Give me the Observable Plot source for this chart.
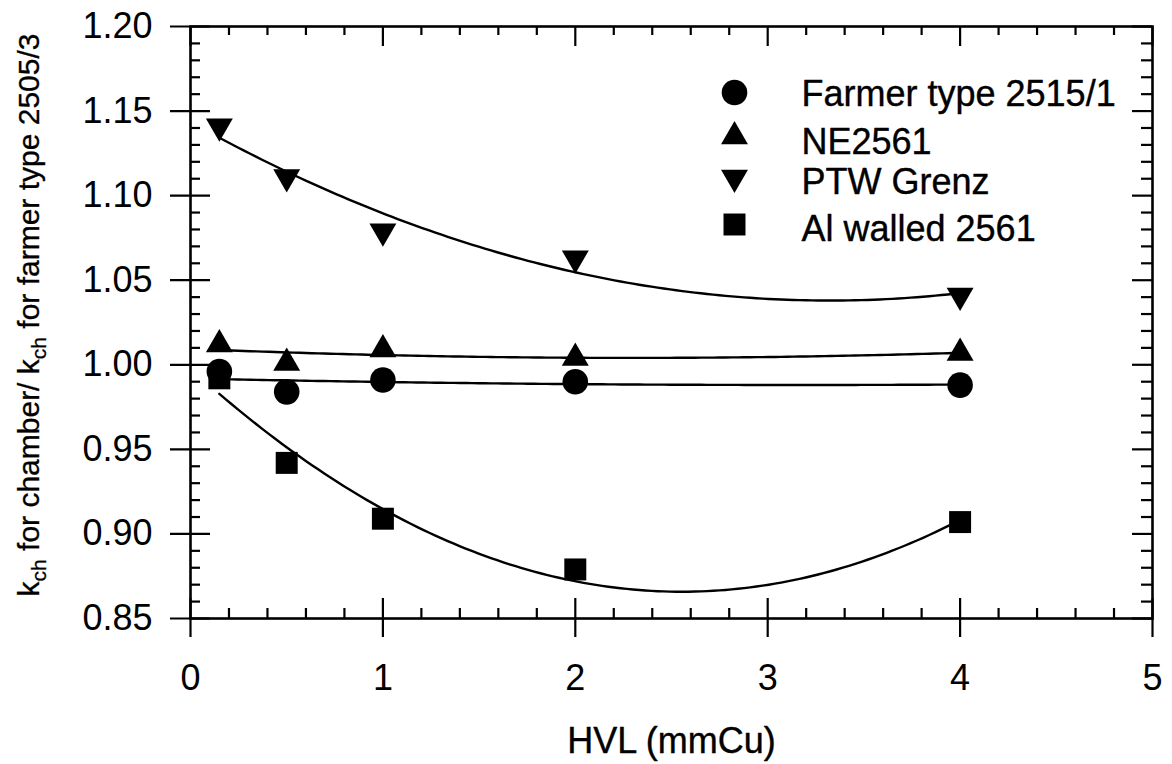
<!DOCTYPE html>
<html>
<head>
<meta charset="utf-8">
<script src="https://cdn.jsdelivr.net/npm/d3@7"></script>
<script src="https://cdn.jsdelivr.net/npm/@observablehq/plot@0.6"></script>
<style>
  html, body { margin: 0; padding: 0; background: #fff; }
  #chart { width: 1172px; height: 764px; }
</style>
</head>
<body>
<div id="chart"></div>
<script>
// HVL (mm Cu) of each beam quality
const hvl = [0.15, 0.5, 1, 2, 4];

// k_ch ratio relative to the Farmer type 2505/3 chamber
const farmer2515 = [0.996, 0.984, 0.991, 0.990, 0.988];
const ne2561     = [1.012, 1.001, 1.009, 1.004, 1.007];
const ptwGrenz   = [1.141, 1.111, 1.079, 1.063, 1.041];
const alWalled   = [0.992, 0.942, 0.909, 0.879, 0.907];

const seriesNames = ["Farmer type 2515/1", "NE2561", "PTW Grenz", "Al walled 2561"];

const xTicks = [0, 1, 2, 3, 4, 5];
const yTicks = [0.85, 0.90, 0.95, 1.00, 1.05, 1.10, 1.15, 1.20];
const yTickLabels = ["0.85", "0.90", "0.95", "1.00", "1.05", "1.10", "1.15", "1.20"];

const xAxisLabel = "HVL (mmCu)";
const yAxisLabelParts = [
  {text: "k"}, {text: "ch", sub: true},
  {text: " for chamber/ k"}, {text: "ch", sub: true},
  {text: " for farmer type 2505/3"}
];

// downward-pointing triangle, centred on its centroid like d3.symbolTriangle
const triangleDown = {
  draw(context, size) {
    const y = Math.sqrt(size / (3 * Math.sqrt(3)));
    context.moveTo(0, 2 * y);
    context.lineTo(Math.sqrt(3) * y, -y);
    context.lineTo(-Math.sqrt(3) * y, -y);
    context.closePath();
  }
};

const seriesValues = [farmer2515, ne2561, ptwGrenz, alWalled];
const seriesSymbols = ["circle", "triangle", triangleDown, "square"];
const seriesRadius = [12.8, 10, 10, 12.4];

// least-squares quadratic through each series
function quadraticFit(xs, ys) {
  const s = [0, 0, 0, 0, 0], t = [0, 0, 0];
  xs.forEach((x, i) => {
    let p = 1;
    for (let k = 0; k < 5; k++) {
      s[k] += p;
      if (k < 3) t[k] += p * ys[i];
      p *= x;
    }
  });
  const M = [
    [s[0], s[1], s[2], t[0]],
    [s[1], s[2], s[3], t[1]],
    [s[2], s[3], s[4], t[2]]
  ];
  for (let i = 0; i < 3; i++) {
    for (let j = i + 1; j < 3; j++) {
      const f = M[j][i] / M[i][i];
      for (let k = i; k < 4; k++) M[j][k] -= f * M[i][k];
    }
  }
  const c = [0, 0, 0];
  for (let i = 2; i >= 0; i--) {
    let v = M[i][3];
    for (let k = i + 1; k < 3; k++) v -= M[i][k] * c[k];
    c[i] = v / M[i][i];
  }
  return x => c[0] + c[1] * x + c[2] * x * x;
}

const points = seriesNames.map((name, s) =>
  hvl.map((x, i) => ({series: name, x, y: seriesValues[s][i]}))
);

const xMin = d3.min(hvl), xMax = d3.max(hvl);
const fitCurves = seriesNames.map((name, s) => {
  const f = quadraticFit(hvl, seriesValues[s]);
  return d3.range(0, 121).map(i => {
    const x = xMin + (xMax - xMin) * i / 120;
    return {series: name, x, y: f(x)};
  });
});

// layout
const W = 1172, H = 764;
const mLeft = 190, mRight = 20, mTop = 26, mBottom = 146;
const frameW = W - mLeft - mRight;
const frameH = H - mTop - mBottom;
const majorLen = 20, minorLen = 10;

const xMinor = d3.range(0, 5.0001, 0.2).map(v => +v.toFixed(2)).filter(v => !xTicks.includes(v));
const yMinor = d3.range(0.85, 1.2001, 0.01).map(v => +v.toFixed(2)).filter(v => !yTicks.includes(v));

const font = "'Liberation Sans', Arial, Helvetica, sans-serif";

// legend placement inside the frame (offsets from its top-left corner)
const legendSymbolDx = 544;
const legendSymbolDy = [66, 110, 151, 198];
const legendTextDx = 611;
const legendTextDy = [79.5, 127, 167.5, 214];

const marks = [
  Plot.frame({stroke: "black", strokeWidth: 2.6}),

  // bottom ticks: major cross the axis, minor inward
  Plot.tickX(xTicks, {x: d => d, insetTop: frameH - majorLen, insetBottom: -19, strokeWidth: 2.2}),
  Plot.tickX(xMinor, {x: d => d, insetTop: frameH - minorLen, strokeWidth: 2.2}),
  // top ticks, inward
  Plot.tickX(xTicks, {x: d => d, insetBottom: frameH - majorLen, strokeWidth: 2.2}),
  Plot.tickX(xMinor, {x: d => d, insetBottom: frameH - minorLen + 1, strokeWidth: 2.2}),
  // left ticks: major cross the axis, minor inward
  Plot.tickY(yTicks, {y: d => d, insetLeft: -20, insetRight: frameW - majorLen, strokeWidth: 2.2}),
  Plot.tickY(yMinor, {y: d => d, insetRight: frameW - minorLen, strokeWidth: 2.2}),
  // right ticks, inward
  Plot.tickY(yTicks, {y: d => d, insetLeft: frameW - majorLen, strokeWidth: 2.2}),
  Plot.tickY(yMinor, {y: d => d, insetLeft: frameW - minorLen - 1, strokeWidth: 2.2}),

  // fitted curves
  ...fitCurves.map(c => Plot.line(c, {x: "x", y: "y", stroke: "black", strokeWidth: 2.4})),

  // measured points
  ...points.map((p, s) => Plot.dot(p, {
    x: "x", y: "y", symbol: seriesSymbols[s], r: seriesRadius[s], fill: "black", stroke: "none"
  })),

  // legend
  ...seriesNames.map((name, s) => Plot.dot([name], {
    frameAnchor: "top-left", dx: legendSymbolDx, dy: legendSymbolDy[s],
    symbol: seriesSymbols[s], r: seriesRadius[s], fill: "black", stroke: "none"
  })),
  ...seriesNames.map((name, s) => Plot.text([name], {
    frameAnchor: "top-left", dx: legendTextDx, dy: legendTextDy[s],
    text: d => d, textAnchor: "start", lineAnchor: "bottom", fontSize: 36, fill: "black",
    stroke: "black", strokeWidth: 0.4
  })),

  // tick labels
  Plot.axisX({ticks: xTicks, tickSize: 0, tickPadding: 46, fontSize: 36, tickFormat: d => String(d), label: null,
    stroke: "black", strokeWidth: 0.4}),
  Plot.axisY({ticks: yTicks, tickSize: 0, tickPadding: 38, fontSize: 36,
    tickFormat: d => yTickLabels[yTicks.indexOf(d)], label: null, stroke: "black", strokeWidth: 0.4}),

  // x axis title
  Plot.text([xAxisLabel], {
    frameAnchor: "bottom", dy: 134, text: d => d, lineAnchor: "bottom", fontSize: 36, fill: "black",
    stroke: "black", strokeWidth: 0.4
  })
];

const chart = Plot.plot({
  width: W,
  height: H,
  marginLeft: mLeft,
  marginRight: mRight,
  marginTop: mTop,
  marginBottom: mBottom,
  x: {domain: [0, 5]},
  y: {domain: [0.85, 1.20]},
  style: {fontFamily: font, fontSize: "36px", color: "black", background: "white", overflow: "visible"},
  marks
});

// y axis title with subscripts
const svg = d3.select(chart);
const yTitle = svg.append("text")
  .attr("transform", `translate(39,${mTop + frameH / 2 - 7}) rotate(-90)`)
  .attr("text-anchor", "middle")
  .attr("font-family", font)
  .attr("font-size", 30)
  .attr("fill", "black")
  .attr("stroke", "black")
  .attr("stroke-width", 0.3);
yAxisLabelParts.forEach(p => {
  const t = yTitle.append("tspan").text(p.text);
  if (p.sub) t.attr("font-size", 21).attr("dy", 7);
  else if (yTitle.selectAll("tspan").size() > 1) t.attr("dy", -7);
});

document.getElementById("chart").appendChild(chart);
</script>
</body>
</html>
